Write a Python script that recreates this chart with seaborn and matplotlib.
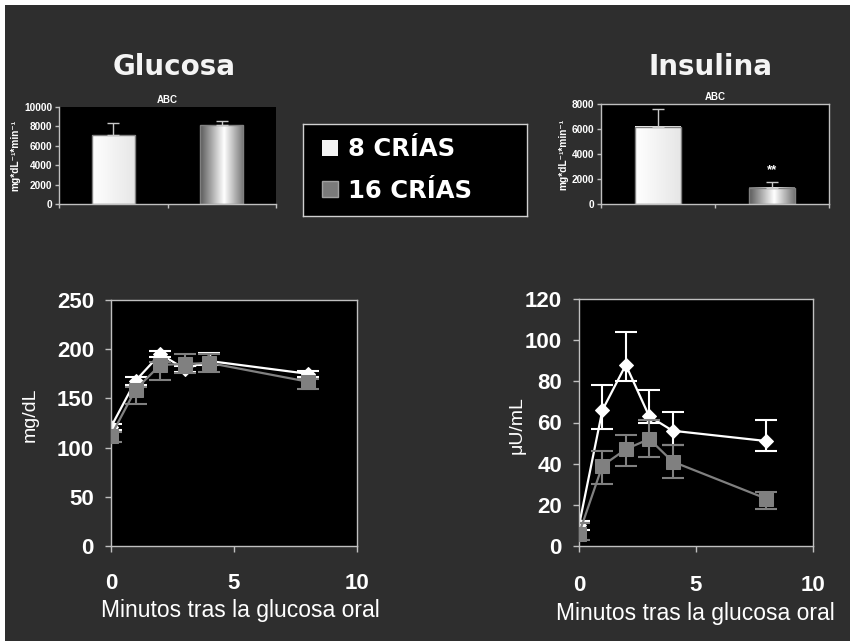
import numpy as np
import pandas as pd
import matplotlib
matplotlib.use("Agg")
import matplotlib.pyplot as plt
import seaborn as sns
from matplotlib.patches import Rectangle, Patch

# datos
grupos = ["8 CRÍAS", "16 CRÍAS"]
minutos = [0, 1, 2, 3, 4, 8]

glu_8 = [121, 168, 195, 180, 188, 175]
glu_8_lo = [3, 4, 3, 3, 4, 3]
glu_8_hi = [3, 4, 3, 3, 8, 3]
glu_16 = [112, 159, 184, 185, 186, 167]
glu_16_lo = [6, 15, 15, 9, 9, 7]
glu_16_hi = [4, 3, 3, 10, 9, 3]

ins_8 = [10, 66, 88, 63, 56, 51]
ins_8_lo = [2, 9, 8, 3, 7, 5]
ins_8_hi = [2, 12, 16, 13, 9, 10]
ins_16 = [6, 39, 47, 52, 41, 23]
ins_16_lo = [3, 9, 8, 9, 8, 5]
ins_16_hi = [5, 7, 7, 9, 8, 3]

abc_glu = [7100, 8100]
abc_glu_err = [1200, 450]
abc_ins = [6200, 1300]
abc_ins_err = [1400, 450]

fondo = "#2e2e2e"
blanco = "#ffffff"
gris = "#808080"
borde = "#c0c0c0"

plt.rcParams["font.family"] = ["Liberation Sans", "DejaVu Sans"]
plt.rcParams["text.color"] = "white"

fig = plt.figure(figsize=(8.5, 6.41), dpi=100, facecolor="white")
fig.add_artist(Rectangle((5 / 850, 0), 1, 1 - 5 / 641, transform=fig.transFigure,
                         facecolor=fondo, edgecolor="none", zorder=0))

# titulos
fig.text(0.2053, 1 - 75 / 641, "Glucosa", ha="center", va="baseline",
         fontsize=20, fontweight="bold", family="DejaVu Sans", color="#f4f4f4")
fig.text(0.8353, 1 - 75 / 641, "Insulina", ha="center", va="baseline",
         fontsize=20, fontweight="bold", family="DejaVu Sans", color="#f4f4f4")


def degradado(ax, parche, valores):
    x0, y0 = parche.get_x(), parche.get_y()
    w, h = parche.get_width(), parche.get_height()
    ax.imshow(np.atleast_2d(valores), cmap="gray", vmin=0, vmax=1, aspect="auto",
              extent=[x0, x0 + w, y0, y0 + h], zorder=parche.get_zorder() - 0.1,
              interpolation="bilinear")
    parche.set_facecolor("none")


def barras(ax, valores, errores, ymax, todos_bordes):
    ax.set_facecolor("black")
    sns.barplot(x=grupos, y=valores, hue=grupos, palette=[blanco, gris], width=0.4,
                edgecolor=gris, linewidth=1, legend=False, ax=ax)
    ax.errorbar(x=[0, 1], y=valores, yerr=[[0, 0], errores], fmt="none",
                ecolor="#c8c8c8", elinewidth=1, capsize=4, capthick=1, zorder=1)
    t = np.linspace(0, 1, 256)
    degradado(ax, ax.patches[0], np.interp(t, [0, 1], [1.0, 0.9]))
    degradado(ax, ax.patches[1], np.interp(t, [0, 0.55, 1], [0.35, 1.0, 0.45]))
    ax.set_xlim(-0.5, 1.5)
    ax.set_ylim(0, ymax)
    ax.set_yticks(np.arange(0, ymax + 1, 2000))
    ax.set_xticks([-0.5, 0.5, 1.5])
    ax.set_xticklabels([])
    ax.set_xlabel("")
    ax.tick_params(colors=borde, labelcolor="white", labelsize=7.3, length=3,
                   width=1, direction="out", pad=2)
    for lab in ax.get_yticklabels():
        lab.set_fontweight("bold")
    for lado, sp in ax.spines.items():
        sp.set_color(borde)
        sp.set_linewidth(1)
        if not todos_bordes and lado in ("top", "right"):
            sp.set_visible(False)
    ax.set_title("ABC", fontsize=7, fontweight="bold", color="white", pad=3)
    ax.set_ylabel("mg*dL⁻¹*min⁻¹", fontsize=7.3, fontweight="bold", color="white")


ax1 = fig.add_axes([59 / 850, 1 - 204 / 641, 217 / 850, 97 / 641])
barras(ax1, abc_glu, abc_glu_err, 10000, False)
ax1.yaxis.set_label_coords(-0.18, 0.5)

ax2 = fig.add_axes([601 / 850, 1 - 204 / 641, 228 / 850, 100 / 641])
barras(ax2, abc_ins, abc_ins_err, 8000, True)
ax2.yaxis.set_label_coords(-0.145, 0.5)
ax2.text(1, abc_ins[1] + abc_ins_err[1] + 500, "**", ha="center", va="bottom",
         fontsize=9.5, fontweight="bold", color="white")

# leyenda
axl = fig.add_axes([303 / 850, 1 - 216 / 641, 224 / 850, 92 / 641])
axl.set_facecolor("black")
axl.set_xticks([])
axl.set_yticks([])
for sp in axl.spines.values():
    sp.set_color("#d0d0d0")
    sp.set_linewidth(1)
manejadores = [Patch(facecolor="#f4f4f4", edgecolor="none"),
               Patch(facecolor="#7a7a7a", edgecolor="#a0a0a0", linewidth=1)]
axl.legend(manejadores, grupos, loc="center left", bbox_to_anchor=(0.03, 0.5),
           frameon=False, handlelength=0.68, handleheight=0.68, handletextpad=0.4,
           labelspacing=0.7, borderpad=0, labelcolor="white",
           prop={"family": "DejaVu Sans", "weight": "bold", "size": 17.5})


def curva(ax, y8, lo8, hi8, y16, lo16, hi16, ymax, paso):
    ax.set_facecolor("black")
    df = pd.DataFrame({"min": minutos * 2, "valor": y8 + y16,
                       "grupo": [grupos[0]] * len(minutos) + [grupos[1]] * len(minutos)})
    ax.errorbar(minutos, y8, yerr=[lo8, hi8], fmt="none", ecolor=blanco,
                elinewidth=1.5, capsize=8, capthick=1.5, zorder=1.5)
    ax.errorbar(minutos, y16, yerr=[lo16, hi16], fmt="none", ecolor=gris,
                elinewidth=1.5, capsize=8, capthick=1.5, zorder=2.5)
    sns.lineplot(data=df, x="min", y="valor", hue="grupo", style="grupo",
                 markers=["D", "s"], dashes=False, palette=[blanco, gris],
                 linewidth=1.6, legend=False, ax=ax)
    lineas = ax.lines[-2:]
    lineas[0].set_markersize(7.5)
    lineas[0].set_zorder(2)
    lineas[1].set_markersize(9.5)
    lineas[1].set_zorder(3)
    for ln in lineas:
        ln.set_markeredgecolor(ln.get_color())
        ln.set_markerfacecolor(ln.get_color())
    ax.set_xlim(0, 10)
    ax.set_ylim(0, ymax)
    ax.set_xticks([0, 5, 10])
    ax.set_yticks(np.arange(0, ymax + 1, paso))
    ax.tick_params(colors=borde, labelcolor="white", labelsize=16, length=4.3,
                   width=1, direction="out")
    ax.tick_params(axis="x", pad=15)
    ax.tick_params(axis="y", pad=8)
    for lab in ax.get_xticklabels() + ax.get_yticklabels():
        lab.set_fontweight("bold")
    for sp in ax.spines.values():
        sp.set_color(borde)
        sp.set_linewidth(1)
    ax.set_xlabel("Minutos tras la glucosa oral", fontsize=16.5, color="white")


ax3 = fig.add_axes([111 / 850, 1 - 546 / 641, 246 / 850, 246 / 641])
curva(ax3, glu_8, glu_8_lo, glu_8_hi, glu_16, glu_16_lo, glu_16_hi, 250, 50)
ax3.set_ylabel("mg/dL", fontsize=14, color="white")
ax3.xaxis.set_label_coords(0.524, -0.215)
ax3.yaxis.set_label_coords(-0.293, 0.533)

ax4 = fig.add_axes([579 / 850, 1 - 546 / 641, 234 / 850, 247 / 641])
curva(ax4, ins_8, ins_8_lo, ins_8_hi, ins_16, ins_16_lo, ins_16_hi, 120, 20)
ax4.set_ylabel("μU/mL", fontsize=14, color="white")
ax4.xaxis.set_label_coords(0.496, -0.225)
ax4.yaxis.set_label_coords(-0.226, 0.49)
ax4.tick_params(axis="x", pad=16.5)

fig.savefig("out.png", dpi=100, facecolor=fig.get_facecolor())
